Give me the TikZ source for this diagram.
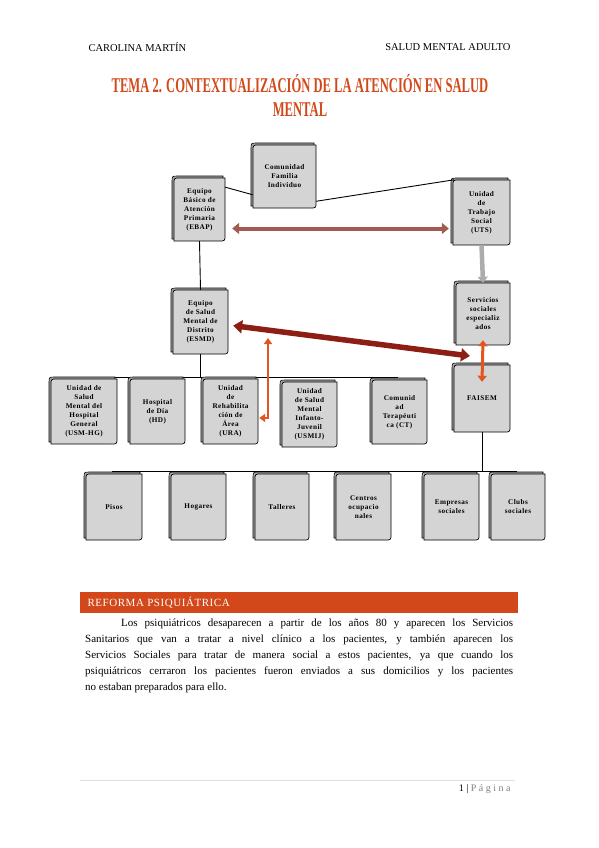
\documentclass[tikz,border=0pt]{standalone}
\usepackage{fontspec}
\setmainfont{Liberation Serif}
\newfontfamily\titulofont[FakeStretch=0.6]{Liberation Serif}
\newfontfamily\cajafont[LetterSpace=6]{Liberation Serif}
\newfontfamily\espaciada[LetterSpace=5]{Liberation Serif}
\usetikzlibrary{arrows.meta}

\definecolor{naranja}{RGB}{211,72,26}
\definecolor{gris}{RGB}{212,212,212}
\definecolor{marron}{RGB}{160,92,80}
\definecolor{granate}{RGB}{140,30,20}
\definecolor{naranjaflecha}{RGB}{226,84,32}

\tikzset{
  caja/.style={font=\cajafont\fontsize{7.2}{9}\selectfont\bfseries, align=center, inner sep=0pt},
  trasera/.style={shift={(-2,-2)}, fill=gray!70, draw=black, line width=0.6pt},
  delantera/.style={fill=gris, draw=black, line width=0.7pt},
  linea/.style={draw=black, line width=0.9pt},
}

% contorno de tarjeta: x1 y1 x2 y2
\newcommand{\forma}[4]{({#1},{#4}) -- ({#1},{#2+6}) .. controls ({#1},{#2}) .. ({#1+6},{#2}) -- ({#3},{#2}) -- ({#3},{#4-6}) .. controls ({#3},{#4}) .. ({#3-6},{#4}) -- cycle}
\newcommand{\caja}[6]{%
  \filldraw[trasera] \forma{#2}{#3}{#4}{#5};
  \filldraw[delantera] \forma{#2}{#3}{#4}{#5};
  \node[caja, minimum width={#4-#2}, minimum height={#5-#3}] (#1) at ({(#2+#4)/2},{(#3+#5)/2}) {#6};
}

\begin{document}
\begin{tikzpicture}[x=1pt,y=-1pt]
\useasboundingbox (0,0) rectangle (599,848);

% cabecera
\node[anchor=west, font=\fontsize{10.5}{12}\selectfont] (autora) at (85,47) {CAROLINA MARTÍN};
\node[anchor=east, font=\fontsize{10.5}{12}\selectfont] (asignatura) at (514,47) {SALUD MENTAL ADULTO};
\node[align=center, text=naranja, font=\titulofont\bfseries\fontsize{21}{24}\selectfont] (titulo) at (300,95)
  {TEMA 2. CONTEXTUALIZACIÓN DE LA ATENCIÓN EN SALUD\\MENTAL};

% lineas de grupo
\coordinate (bus1izq) at (83,377);
\coordinate (bus1der) at (398,377);
\coordinate (bus2izq) at (112,471);
\coordinate (bus2der) at (517,471);
\draw[linea] (bus1izq) -- (bus1der);
\draw[linea] (bus2izq) -- (bus2der);

% cajas
\caja{com}{253}{145}{316}{208}{Comunidad\\Familia\\Individuo}
\caja{ebap}{174}{178}{225}{241}{Equipo\\Básico de\\Atención\\Primaria\\(EBAP)}
\caja{uts}{453}{180}{510}{245}{Unidad\\de\\Trabajo\\Social\\(UTS)}
\caja{esmd}{173}{290}{228}{354}{Equipo\\de Salud\\Mental de\\Distrito\\(ESMD)}
\caja{serv}{456}{283}{510}{345}{Servicios\\sociales\\especializ\\ados}
\caja{usmhg}{51}{379}{117}{444}{Unidad de\\Salud\\Mental del\\Hospital\\General\\(USM-HG)}
\caja{hd}{130}{379}{185}{444}{Hospital\\de Día\\(HD)}
\caja{ura}{203}{379}{258}{444}{Unidad\\de\\Rehabilita\\ción de\\Área\\(URA)}
\caja{usmij}{282}{382}{337}{447}{Unidad\\de Salud\\Mental\\Infanto-\\Juvenil\\(USMIJ)}
\caja{ct}{372}{380}{427}{444}{Comunid\\ad\\Terapéuti\\ca (CT)}
\caja{faisem}{454}{365}{510}{432}{FAISEM}
\caja{pisos}{86}{474}{142}{540}{Pisos}
\caja{hogares}{171}{474}{226}{540}{Hogares}
\caja{talleres}{255}{474}{309}{540}{Talleres}
\caja{centros}{336}{474}{391}{540}{Centros\\ocupacio\\nales}
\caja{empresas}{424}{474}{479}{540}{Empresas\\sociales}
\caja{clubs}{491}{474}{545}{540}{Clubs\\sociales}

% conexiones
\draw[linea] (ebap.41) -- (com.210);
\draw[linea] (com.-38) -- (uts.130);
\draw[linea] (ebap.south) -- (esmd.north);
\draw[linea] (esmd.south) -- (esmd.south |- bus1izq);
\draw[linea] (faisem.south) -- (faisem.south |- bus2izq);

\draw[marron, line width=4pt, shorten <=7pt, shorten >=4pt,
  {Triangle[width=11pt,length=7pt]}-{Triangle[width=11pt,length=7pt]}]
  ([yshift=-19pt]ebap.east) -- ([yshift=-19pt]ebap.east -| uts.west);
\draw[gray!65, line width=4.5pt, -{Triangle[width=10pt,length=6pt]}]
  (uts.south) -- (serv.north);
\coordinate (cruce) at (470,356);
\draw[granate, line width=5.5pt, shorten <=5pt,
  {Triangle[width=13pt,length=9pt]}-{Triangle[width=13pt,length=9pt]}]
  ([yshift=-3pt]esmd.east) -- (cruce);
\coordinate (uraarriba) at (268,338);
\draw[naranjaflecha, line width=2.5pt, shorten >=1pt,
  {Triangle[width=8pt,length=6pt]}-{Triangle[width=8pt,length=6pt]}]
  (uraarriba) |- ([yshift=-6.5pt]ura.east);
\draw[naranjaflecha, line width=3pt,
  {Triangle[width=9pt,length=6pt]}-{Triangle[width=9pt,length=6pt]}]
  ([yshift=5pt]serv.south) -- ([yshift=-17pt]faisem.north);

% apartado
\fill[naranja] (80,592) rectangle (518,613);
\node[anchor=west, text=white, font=\espaciada\fontsize{11}{12}\selectfont] (apartado) at (84,603) {REFORMA PSIQUIÁTRICA};
\node[anchor=north west, text width=428pt, align=justify, inner sep=0pt,
  font=\fontsize{11}{16}\selectfont] (parrafo) at (85,619)
  {\hspace*{36pt}Los psiquiátricos desaparecen a partir de los años 80 y aparecen los Servicios\linebreak
  Sanitarios que van a tratar a nivel clínico a los pacientes, y también aparecen los\linebreak
  Servicios Sociales para tratar de manera social a estos pacientes, ya que cuando los\linebreak
  psiquiátricos cerraron los pacientes fueron enviados a sus domicilios y los pacientes\linebreak
  no estaban preparados para ello.};

% pie
\draw[gray!25, line width=0.6pt] (80,780) -- (515,780);
\node[anchor=east, font=\fontsize{10}{12}\selectfont] (pagina) at (514,789)
  {1 | \textcolor{gray}{P á g i n a}};
\end{tikzpicture}
\end{document}
